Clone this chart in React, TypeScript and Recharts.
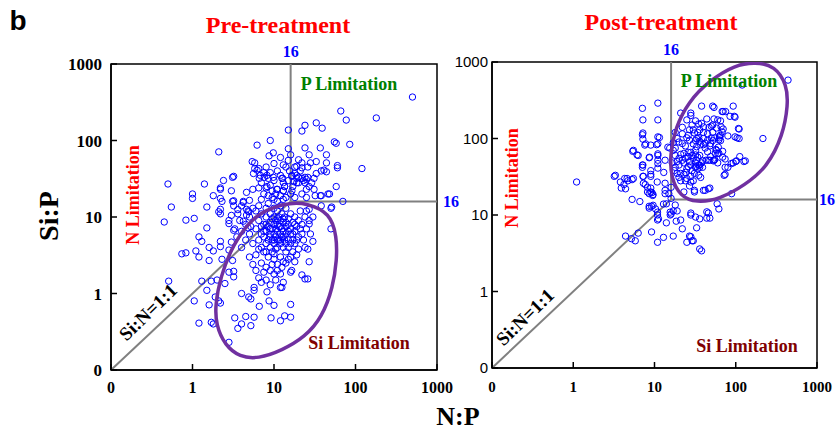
import React from 'react';
import {
  ScatterChart,
  Scatter,
  XAxis,
  YAxis,
  ReferenceLine,
  ReferenceArea,
  ReferenceDot,
} from 'recharts';

type Pair = [number, number]; // [N:P, Si:P]

const AXIS_TICKS = [0.1, 1, 10, 100, 1000];
const REDFIELD = 16;

const SERIF = '"Liberation Serif", "DejaVu Serif", serif';
const SANS = '"Liberation Sans", Arial, sans-serif';

// pre-treatment, scattered points
const preSparse: Pair[] = [
  [500, 370], [66, 243], [180, 197], [77, 185], [15, 137], [24, 158], [33, 170], [22, 133], [39, 145],
  [9, 100], [6.2, 87], [55, 96], [58, 92], [85, 89], [15, 78], [24, 80], [37, 80], [2.1, 71], [9.8, 69],
  [8.7, 63], [16, 65], [27, 65], [44, 65], [5.4, 53], [5.8, 51], [20, 56], [22, 51], [28, 51], [33, 53],
  [44, 51], [60, 47], [60, 44], [120, 43], [44, 39], [38, 40], [6.2, 41], [6.8, 35], [8.2, 35], [9.8, 33],
  [12.8, 32], [16.6, 35], [20, 33], [26, 33], [31, 32], [3.2, 34], [2.4, 30], [0.5, 27], [1.4, 27],
  [2.2, 23], [3.0, 22], [4.6, 21], [5.5, 23], [8.2, 25], [10.8, 23], [13.5, 25], [16.6, 22], [25, 23],
  [31, 23], [58, 25], [1.0, 20], [1.0, 17.5], [1.8, 19], [2.2, 17.5], [3.2, 16.3], [4.2, 16], [38, 19],
  [48, 20], [70, 16], [0.55, 13.5], [1.5, 13.5], [2.1, 11.7], [2.2, 12.6], [3.2, 14], [4.6, 12.6],
  [4.9, 11.7], [27, 12.6], [38, 14], [50, 13], [0.45, 8.6], [0.83, 9.1], [1.05, 9.6], [0.74, 3.3],
  [0.83, 3.4], [1.1, 3.6], [1.2, 3.0], [1.2, 5.5], [1.3, 4.8], [1.5, 7.2], [1.6, 4.0], [1.6, 2.7],
  [1.8, 3.6], [2.2, 11], [2.2, 4.8], [2.2, 4.1], [2.3, 2.8], [2.8, 9], [2.8, 8.2], [2.8, 3.7], [3.0, 4.7],
  [3.2, 6.7], [3.1, 2.7], [4.0, 14], [3.6, 11], [4.2, 8.8], [4.6, 10.6], [4.8, 7.2], [1.5, 1.1],
  [1.05, 0.8], [0.51, 1.45], [1.2, 0.41], [1.6, 0.71], [1.7, 0.42], [1.8, 0.4], [1.9, 0.9], [2.2, 0.75],
  [2.1, 0.8], [2.8, 0.23], [1.7, 1.45], [2.0, 1.5], [2.5, 1.35], [2.8, 1.9], [3.2, 1.65], [3.2, 1.95],
  [3.3, 0.48], [3.6, 0.35], [4.0, 0.4], [4.5, 0.5], [5.2, 0.38], [5.7, 0.49], [4.0, 1.0], [4.9, 0.9],
  [5.2, 0.85], [5.7, 1.1], [5.7, 1.2], [6.6, 0.68], [8.2, 1.05], [8.7, 0.8], [10, 0.7], [9.2, 0.48],
  [12, 0.44], [13.5, 0.51], [16, 0.49], [16, 0.72], [12, 1.2], [12.5, 1.2], [16.5, 2.0], [22, 1.75],
  [24, 1.55], [26, 1.55], [27, 2.6], [26, 3.8], [30, 4.8], [27, 8.1], [50, 7.0], [51, 13.5], [1.3, 1.45],
  [19, 46], [22, 44], [33, 37], [41, 41], [18, 37], [19, 32], [17.5, 29], [19, 28], [16.5, 34], [22, 32],
  [24, 33], [25, 31], [24, 28], [27, 25], [29, 28], [32, 19], [37, 19], [46, 20], [12.5, 32], [13.5, 25],
  [13, 22], [5.8, 43], [6.5, 43], [6.6, 32], [7.6, 33], [5.6, 37], [3.1, 33], [2.2, 24], [2.3, 16],
  [3.1, 16], [4.2, 15.5], [5, 16.5],
];

// pre-treatment, the dense cloud around N:P 5-25
const preCore: Pair[] = [
  [5, 6], [5.5, 4.5], [6, 7], [6, 3.2], [6.5, 5], [6.5, 9], [7, 4], [7, 6], [7, 11], [7, 2.5], [7.5, 5.5],
  [7.5, 8], [7.5, 3.5], [8, 4.5], [8, 6.5], [8, 10], [8, 13], [8, 2.2], [8.5, 5], [8.5, 7.5], [8.5, 3],
  [8.5, 15], [9, 4], [9, 6], [9, 8.5], [9, 11], [9, 2], [9.5, 5], [9.5, 7], [9.5, 3.5], [9.5, 18],
  [10, 4.5], [10, 6], [10, 8], [10, 10], [10, 13], [10, 2.8], [10, 1.8], [10.5, 5.5], [10.5, 7], [10.5, 9],
  [10.5, 3.8], [11, 4], [11, 6.5], [11, 8], [11, 12], [11, 2.4], [11, 16], [11.5, 5], [11.5, 7.5],
  [11.5, 10], [12, 4.5], [12, 6], [12, 9], [12, 3], [12, 14], [12.5, 5.5], [12.5, 7], [12.5, 11], [13, 4],
  [13, 6.5], [13, 8.5], [13, 2.6], [13.5, 5], [13.5, 10], [14, 6], [14, 7.5], [14, 3.5], [14, 13], [15, 5],
  [15, 8], [15, 9.5], [15, 4], [16, 6], [16, 7], [16, 11], [16, 3], [17, 5], [17, 8.5], [18, 6.5], [18, 10],
  [18, 4.5], [19, 7.5], [20, 5.5], [20, 9], [21, 12], [22, 6], [22, 8], [24, 10], [24, 4], [6, 12],
  [6.5, 14], [7, 17], [7.5, 20], [8, 24], [8.5, 19], [9, 26], [9.5, 22], [10, 17], [10.5, 20], [11, 23],
  [12, 19], [13, 17], [13, 22], [14, 18], [5, 10], [5.5, 13], [4.5, 8], [4.5, 5], [4, 6.5], [4, 4],
  [3.8, 9], [3.5, 5.5], [5, 3], [5.5, 2.4], [6, 2], [6.5, 1.6], [7, 1.4], [7.5, 1.9], [8, 1.5], [9, 1.3],
  [9.5, 2.4], [10.5, 1.5], [11, 2], [12, 1.8], [12.5, 2.2], [13, 1.4], [14, 2.5], [15, 2.8], [16, 1.9],
  [17, 3.5], [18, 2.6], [19, 3.2], [20, 3.8], [6.5, 3.8], [7, 7.5], [7.5, 6.5], [8, 3.5], [8, 8], [9, 5.5],
  [9, 7], [9.5, 9.5], [10, 5], [10, 3.3], [11, 5], [11, 9.5], [12, 5], [12, 7.5], [13, 5.5], [13, 9.5],
  [14, 4.5], [14, 8.5], [15, 6.5], [16, 4.5], [17, 6], [18, 8], [19, 5], [21, 7], [23, 5], [25, 7],
  [25, 12], [27, 9], [28, 6], [30, 10], [5.2, 7.5], [4.8, 12], [3.3, 7], [3.0, 10.5], [3.6, 12.5],
  [15, 30], [15.5, 40], [16, 20], [15, 55], [17, 25], [18, 45], [19, 35], [20, 28], [21, 40], [18, 18],
  [22, 20], [23, 30], [25, 18], [26, 45], [14, 45], [13, 28], [12, 35], [11, 40], [10, 30], [9, 38],
  [8.5, 32], [8, 45], [7, 28], [7.5, 38], [6.5, 24], [10, 50], [12, 60], [13, 48],
];

// outline points of the purple ellipse (Si limitation cluster)
const preEllipse: Pair[] = [
  [25, 15.2], [49, 11.3], [59, 5.5], [59, 2.74], [53, 1.22], [39, 0.49], [24, 0.27], [12.5, 0.18],
  [6.4, 0.14], [3.8, 0.148], [2.5, 0.21], [1.94, 0.39], [1.9, 0.71], [2.2, 1.64], [3.1, 4.3], [5.5, 10],
  [9.7, 13.5], [15.7, 15.2],
];

// post-treatment points
const postPoints: Pair[] = [
  [440, 580], [120, 500], [216, 100], [126, 50], [100, 50], [93, 48], [88, 47], [74, 34], [60, 48],
  [53, 51], [46, 52], [39, 51], [36, 42], [32, 43], [1.1, 27], [3.2, 32], [3.8, 27], [4.2, 25], [4.4, 22],
  [4.7, 28], [5.3, 29], [5.3, 16], [6.6, 15], [7.1, 248], [11, 290], [7.2, 175], [11, 175], [7.1, 112],
  [7.2, 98], [7.6, 82], [9, 82], [10.6, 83], [11.5, 103], [5.4, 68], [6.3, 60], [7.1, 45], [7.1, 42],
  [8.7, 57], [11, 60], [11, 47], [9, 38], [7.3, 32], [9, 32], [10.8, 27], [13, 36], [13.5, 26], [8.2, 23],
  [9, 20], [8.6, 19], [9.5, 18], [8.6, 13], [10.3, 12], [13.5, 21], [13.5, 19],
  [21, 215], [28, 200], [38, 265], [52, 265], [54, 255], [70, 225], [93, 265], [85, 195], [98, 190],
  [25, 175], [35, 155], [44, 180], [52, 150], [60, 175], [66, 142], [108, 135], [104, 102], [63, 102],
  [55, 102], [45, 115], [40, 142], [30, 130], [22, 115], [19, 100], [25, 102], [32, 94], [37, 83],
  [40, 83], [49, 86], [61, 77], [69, 68], [56, 64], [49, 58], [26, 66], [23, 64], [20, 55], [17, 70],
  [16.5, 48], [18, 42], [21, 35], [24, 36], [26, 43], [28, 32], [24, 28], [20, 31], [17.5, 38], [32, 42],
  [35, 45], [27, 24], [31, 20], [40, 21], [46, 22], [89, 19], [23, 20], [16, 23], [14, 14], [15, 19],
  [16, 16.5], [23, 34], [18, 75], [32, 70], [29, 60], [45, 67], [35, 103], [22, 86], [52, 120], [47, 140],
  [34, 120], [57, 72], [63, 108], [80, 108], [112, 58],
  [3.9, 22.5], [7.3, 26], [7.7, 25], [8.2, 20], [9, 22.5], [9.3, 19.6], [9.6, 18.5], [8.6, 12.3],
  [9.6, 13.4], [10.9, 10.9], [10.9, 10], [10.9, 8.6], [14, 7.9], [12.9, 13.9], [4.4, 5.3], [5.2, 4.9],
  [5.8, 4.6], [6.3, 5.8], [9.2, 6.0], [10.9, 4.4], [12.9, 5.1], [17, 5.3], [16, 10.3], [15.6, 10.9],
  [17, 11.3], [19, 11.3], [18, 13.5], [18.5, 8.3], [21, 8.6], [22, 6.6], [25, 4.4], [42, 21], [48, 22.5],
  [62, 12], [59, 14], [44, 11], [44, 9.1], [48, 9.1], [36, 8.9], [32, 9.4], [33, 6.8], [28, 5.2],
  [30, 4.6], [36, 3.6], [28, 10.6], [31, 21], [28, 27], [11.2, 8.9], [15.6, 10], [29, 4.6], [27, 5.3],
  [38, 3.4], [28, 10], [46, 10.6], [9.2, 13],
  [7.2, 118], [11, 105], [7.8, 85], [11, 85], [5.5, 70], [6.1, 61], [8.6, 56], [11, 63], [11, 52],
  [7.2, 45], [11, 41], [3.3, 33], [4.3, 30], [4.6, 30], [5.5, 30], [7.2, 32], [9, 34], [14.6, 77],
  [15.4, 75], [13.5, 52],
  [54, 180], [65, 170], [38, 158], [50, 145], [58, 137], [70, 133], [68, 122], [110, 133], [98, 105],
  [110, 100], [27, 130], [31, 118], [33, 100], [42, 87], [50, 102], [52, 94], [62, 96], [65, 110],
  [65, 94], [58, 70], [60, 64], [62, 64], [69, 57], [74, 54], [43, 52], [48, 52], [54, 52], [55, 53],
  [102, 51], [131, 51], [28, 66], [32, 61], [34, 57], [32, 48], [36, 45], [39, 42], [74, 42], [80, 42],
  [72, 33], [35, 33], [37, 31], [68, 225], [75, 225], [96, 195], [28, 215],
  [18, 60], [19, 50], [20, 45], [21, 62], [22, 52], [23, 48], [24, 55], [25, 40], [26, 58], [27, 50],
  [28, 45], [29, 38], [30, 55], [31, 35], [33, 52], [34, 40], [36, 60], [38, 48], [20, 90], [24, 80],
  [27, 95], [30, 85], [33, 78], [36, 92], [40, 100], [42, 75], [45, 95], [48, 80], [22, 140], [26, 110],
  [29, 150], [32, 170], [36, 130], [40, 120], [18, 120], [17, 88], [19, 35], [21, 28], [25, 30], [30, 28],
];

const postEllipse: Pair[] = [
  [173, 1000], [304, 890], [427, 500], [440, 274], [382, 111], [243, 42], [130, 24.7], [64, 16.2],
  [33, 14.4], [20.6, 17.7], [16, 30.5], [15.5, 61], [18, 137], [26, 300], [48, 580], [98, 914],
];

const toRows = (pairs: Pair[]) => pairs.map(([np, sip]) => ({ np, sip }));

const tickFmt = (v: number) => (v < 1 ? '0' : String(v));

const HollowDot = (p: any) => (
  <circle cx={p.cx} cy={p.cy} r={3.2} fill="none" stroke="#0000FF" strokeWidth={1} />
);

const axisStroke = { stroke: '#000', strokeWidth: 1.5 };
const refLabel = {
  fill: '#0000FF',
  fontWeight: 700,
  fontFamily: SERIF,
  fontSize: 16,
};

type PanelProps = {
  points: Pair[];
  ellipse: Pair[];
  width: number;
  margin: { top: number; right: number; bottom: number; left: number };
  yAxisWidth: number;
  yTick: any;
  yTickMargin: number;
  xHeight: number;
  xTickMargin: number;
  xTickSize: number;
  rightLabelOffset: number;
};

function Panel(props: PanelProps) {
  const {
    points,
    ellipse,
    width,
    margin,
    yAxisWidth,
    yTick,
    yTickMargin,
    xHeight,
    xTickMargin,
    xTickSize,
    rightLabelOffset,
  } = props;
  return (
    <ScatterChart width={width} height={400} margin={margin}>
      <XAxis
        type="number"
        dataKey="np"
        scale="log"
        domain={[0.1, 1000]}
        ticks={AXIS_TICKS}
        interval={0}
        allowDataOverflow
        tickFormatter={tickFmt}
        height={xHeight}
        tickSize={-6}
        tickMargin={xTickMargin}
        axisLine={axisStroke}
        tickLine={axisStroke}
        tick={{ fill: '#000', fontFamily: SERIF, fontWeight: 700, fontSize: xTickSize }}
      />
      <YAxis
        type="number"
        dataKey="sip"
        scale="log"
        domain={[0.1, 1000]}
        ticks={AXIS_TICKS}
        interval={0}
        allowDataOverflow
        tickFormatter={tickFmt}
        width={yAxisWidth}
        tickSize={-6}
        tickMargin={yTickMargin}
        axisLine={axisStroke}
        tickLine={axisStroke}
        tick={yTick}
      />
      <ReferenceArea x1={0.1} x2={1000} y1={0.1} y2={1000} fill="none" stroke="#000" strokeWidth={1.5} />
      <ReferenceLine
        segment={[
          { x: 0.1, y: 0.1 },
          { x: REDFIELD, y: REDFIELD },
        ]}
        stroke="#808080"
        strokeWidth={2}
      />
      <ReferenceLine
        segment={[
          { x: REDFIELD, y: REDFIELD },
          { x: REDFIELD, y: 1000 },
        ]}
        stroke="#808080"
        strokeWidth={2}
      />
      <ReferenceLine
        segment={[
          { x: REDFIELD, y: REDFIELD },
          { x: 1000, y: REDFIELD },
        ]}
        stroke="#808080"
        strokeWidth={2}
      />
      <ReferenceDot
        x={REDFIELD}
        y={1000}
        r={0}
        fill="none"
        stroke="none"
        label={{ value: '16', position: 'top', offset: 7, ...refLabel }}
      />
      <ReferenceDot
        x={1000}
        y={REDFIELD}
        r={0}
        fill="none"
        stroke="none"
        label={{ value: '16', position: 'right', offset: rightLabelOffset, ...refLabel }}
      />
      <Scatter data={toRows(points)} shape={HollowDot} isAnimationActive={false} />
      <Scatter
        data={toRows(ellipse)}
        line={{ stroke: '#7030A0', strokeWidth: 3.5, fill: 'none' }}
        lineJointType="basisClosed"
        shape={() => <g />}
        isAnimationActive={false}
      />
    </ScatterChart>
  );
}

type TxtProps = {
  x: number;
  y: number;
  size: number;
  color?: string;
  rotate?: number;
  family?: string;
  children: React.ReactNode;
};

const Txt = ({ x, y, size, color = '#000', rotate = 0, family = SERIF, children }: TxtProps) => (
  <div
    style={{
      position: 'absolute',
      left: x,
      top: y,
      transform: `translate(-50%, -50%) rotate(${rotate}deg)`,
      fontFamily: family,
      fontWeight: 700,
      fontSize: size,
      color,
      whiteSpace: 'nowrap',
      lineHeight: 1,
    }}
  >
    {children}
  </div>
);

export default function App() {
  return (
    <div
      style={{
        position: 'absolute',
        left: 0,
        top: 0,
        width: 837,
        height: 433,
        background: '#fff',
        overflow: 'hidden',
      }}
    >
      <div style={{ position: 'absolute', left: 0, top: 0 }}>
        <Panel
          points={[...preSparse, ...preCore]}
          ellipse={preEllipse}
          width={460}
          margin={{ top: 64, right: 23, bottom: 0, left: 51 }}
          yAxisWidth={60}
          yTick={{ fill: '#000', fontFamily: SERIF, fontWeight: 700, fontSize: 17 }}
          yTickMargin={15}
          xHeight={30}
          xTickMargin={18}
          xTickSize={16}
          rightLabelOffset={6}
        />
      </div>
      <div style={{ position: 'absolute', left: 440, top: 0 }}>
        <Panel
          points={postPoints}
          ellipse={postEllipse}
          width={397}
          margin={{ top: 62, right: 20, bottom: 0, left: 0 }}
          yAxisWidth={52}
          yTick={{ fill: '#000', fontFamily: SANS, fontWeight: 400, fontSize: 15 }}
          yTickMargin={10}
          xHeight={32}
          xTickMargin={19}
          xTickSize={15}
          rightLabelOffset={2}
        />
      </div>

      <Txt x={18} y={21} size={28} family={SANS}>
        b
      </Txt>
      <Txt x={278} y={25} size={24} color="#FF0000">
        Pre-treatment
      </Txt>
      <Txt x={661} y={22} size={24} color="#FF0000">
        Post-treatment
      </Txt>
      <Txt x={49} y={216} size={28} rotate={-90}>
        Si:P
      </Txt>
      <Txt x={458} y={417} size={26}>
        N:P
      </Txt>

      <Txt x={349} y={84} size={18} color="#008000">
        P Limitation
      </Txt>
      <Txt x={133} y={195} size={18} color="#FF0000" rotate={-90}>
        N Limitation
      </Txt>
      <Txt x={359} y={343} size={18} color="#800000">
        Si Limitation
      </Txt>
      <Txt x={148} y={312} size={19} rotate={-44}>
        Si:N=1:1
      </Txt>

      <Txt x={729} y={81} size={18} color="#008000">
        P Limitation
      </Txt>
      <Txt x={512} y={178} size={18} color="#FF0000" rotate={-90}>
        N Limitation
      </Txt>
      <Txt x={747} y={346} size={18} color="#800000">
        Si Limitation
      </Txt>
      <Txt x={525} y={317} size={19} rotate={-44}>
        Si:N=1:1
      </Txt>
    </div>
  );
}
